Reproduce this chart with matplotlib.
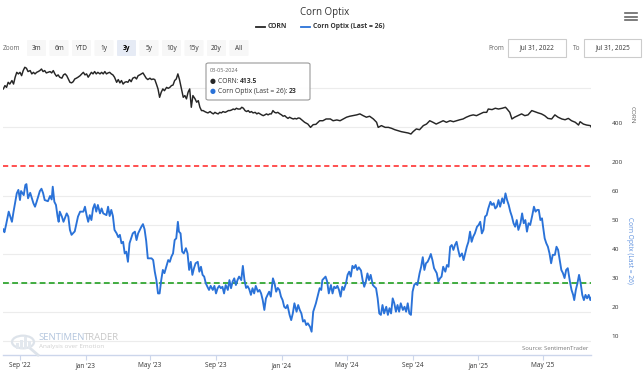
import matplotlib
matplotlib.use('Agg')
import matplotlib.pyplot as plt
from matplotlib.patches import FancyBboxPatch, Circle, Rectangle
from matplotlib.lines import Line2D
import pandas as pd

plt.rcParams['font.family'] = ['Open Sans', 'DejaVu Sans']

# ---------------- data ----------------
corn_dates = [
 '2022-08-01','2022-08-04','2022-08-07','2022-08-10','2022-08-13','2022-08-17','2022-08-20','2022-08-23','2022-08-26','2022-08-29',
 '2022-09-01','2022-09-04','2022-09-07','2022-09-10','2022-09-13','2022-09-16','2022-09-20','2022-09-23','2022-09-26','2022-09-29',
 '2022-10-02','2022-10-05','2022-10-08','2022-10-11','2022-10-14','2022-10-17','2022-10-20','2022-10-23','2022-10-27','2022-10-30',
 '2022-11-02','2022-11-05','2022-11-08','2022-11-11','2022-11-14','2022-11-18','2022-11-21','2022-11-24','2022-11-27','2022-11-30',
 '2022-12-03','2022-12-06','2022-12-09','2022-12-12','2022-12-15','2022-12-18','2022-12-22','2022-12-25','2022-12-28','2022-12-31',
 '2023-01-03','2023-01-06','2023-01-09','2023-01-12','2023-01-15','2023-01-18','2023-01-21','2023-01-24','2023-01-28','2023-01-31',
 '2023-02-03','2023-02-06','2023-02-09','2023-02-12','2023-02-15','2023-02-18','2023-02-21','2023-02-24','2023-02-28',
 '2023-03-03','2023-03-06','2023-03-09','2023-03-12','2023-03-15','2023-03-18','2023-03-21','2023-03-24','2023-03-27','2023-03-30',
 '2023-04-03','2023-04-06','2023-04-09','2023-04-12','2023-04-15','2023-04-18','2023-04-21','2023-04-24','2023-04-27',
 '2023-05-01','2023-05-04','2023-05-07','2023-05-10','2023-05-13','2023-05-16','2023-05-19','2023-05-22','2023-05-25','2023-05-28',
 '2023-06-01','2023-06-04','2023-06-07','2023-06-10','2023-06-13','2023-06-16','2023-06-19','2023-06-22','2023-06-25','2023-06-28',
 '2023-07-02','2023-07-05','2023-07-08','2023-07-11','2023-07-14','2023-07-17','2023-07-20','2023-07-24','2023-07-27','2023-07-30',
 '2023-08-02','2023-08-05','2023-08-08','2023-08-11','2023-08-14','2023-08-17','2023-08-21','2023-08-24','2023-08-27','2023-08-30',
 '2023-09-02','2023-09-05','2023-09-08','2023-09-11','2023-09-14','2023-09-18','2023-09-21','2023-09-24','2023-09-27','2023-09-30',
 '2023-10-03','2023-10-06','2023-10-09','2023-10-12','2023-10-16','2023-10-19','2023-10-22','2023-10-25','2023-10-28','2023-10-31',
 '2023-11-03','2023-11-06','2023-11-09','2023-11-13','2023-11-16','2023-11-19','2023-11-22','2023-11-25','2023-11-28',
 '2023-12-01','2023-12-04','2023-12-07','2023-12-10','2023-12-13','2023-12-16','2023-12-19','2023-12-22','2023-12-25','2023-12-29',
 '2024-01-01','2024-01-04','2024-01-07','2024-01-10','2024-01-13','2024-01-16','2024-01-20','2024-01-23','2024-01-26','2024-01-29',
 '2024-02-01','2024-02-04','2024-02-13','2024-02-19','2024-02-24','2024-02-29','2024-03-05','2024-03-12','2024-03-18','2024-03-24',
 '2024-04-01','2024-04-06','2024-04-13','2024-04-19','2024-04-25','2024-05-01','2024-05-07','2024-05-13','2024-05-20','2024-05-26',
 '2024-06-01','2024-06-07','2024-06-13','2024-06-20','2024-06-26','2024-06-29','2024-07-05','2024-07-12','2024-07-18','2024-07-24',
 '2024-07-30','2024-08-05','2024-08-11','2024-08-17','2024-08-24','2024-08-29','2024-09-02','2024-09-08','2024-09-14','2024-09-21',
 '2024-09-27','2024-10-03','2024-10-09','2024-10-15','2024-10-22','2024-10-28','2024-11-03','2024-11-10','2024-11-16','2024-11-22',
 '2024-11-28','2024-12-04','2024-12-10','2024-12-17','2024-12-23','2024-12-29','2025-01-05','2025-01-11','2025-01-17','2025-01-20',
 '2025-01-27','2025-02-02','2025-02-08','2025-02-15','2025-02-21','2025-02-24','2025-03-01','2025-03-05','2025-03-10','2025-03-16',
 '2025-03-23','2025-03-29','2025-04-04','2025-04-11','2025-04-16','2025-04-23','2025-04-29','2025-05-05','2025-05-11','2025-05-18',
 '2025-05-24','2025-05-30','2025-06-06','2025-06-12','2025-06-18','2025-06-24','2025-07-01','2025-07-07','2025-07-10','2025-07-16',
 '2025-07-22','2025-07-29','2025-07-31']
corn_values = [
 595,612,603,629,620,638,620,655,680,672,
 680,663,689,706,701,684,689,672,680,672,
 680,684,689,697,684,689,677,680,684,677,
 689,672,660,667,655,650,667,672,663,646,
 629,626,632,646,650,655,663,672,680,667,
 672,655,667,680,672,684,672,680,672,680,
 672,684,672,677,680,672,667,655,629,
 643,626,638,620,629,632,629,643,632,650,
 655,646,663,667,672,677,663,650,643,
 650,643,646,643,620,595,552,578,595,586,
 603,598,603,612,615,638,646,672,643,603,
 552,561,544,578,595,501,561,544,527,535,
 501,484,484,479,475,472,479,472,467,475,
 470,467,475,472,479,475,479,484,484,487,
 492,489,496,492,492,501,496,484,479,484,
 475,479,472,475,467,472,467,462,458,
 462,467,462,467,467,484,475,472,475,467,
 462,455,458,450,444,450,444,441,444,441,
 446,445,424,415,398,412,413.5,432,432,441,
 441,432,436,432,441,450,455,458,462,467,
 458,450,455,441,424,398,407,398,398,393,
 386,381,376,373,369,364,376,390,386,407,
 415,432,424,415,424,432,424,432,427,432,
 437,441,450,458,462,458,467,475,475,492,
 489,496,492,496,501,492,475,441,450,458,
 467,458,462,484,479,472,467,458,444,441,
 462,450,441,437,444,432,424,410,427,415,
 410,407,398]

optix_dates = [
 '2022-08-01','2022-08-03','2022-08-06','2022-08-11','2022-08-13','2022-08-17','2022-08-20','2022-08-26','2022-08-29',
 '2022-09-01','2022-09-03','2022-09-08','2022-09-11','2022-09-13','2022-09-16','2022-09-20','2022-09-26','2022-09-29',
 '2022-10-02','2022-10-08','2022-10-11','2022-10-14','2022-10-17','2022-10-23','2022-10-27','2022-10-30',
 '2022-11-01','2022-11-04','2022-11-07','2022-11-10','2022-11-12','2022-11-14','2022-11-18','2022-11-21','2022-11-27','2022-11-30',
 '2022-12-03','2022-12-06','2022-12-12','2022-12-15','2022-12-18','2022-12-22','2022-12-28','2022-12-31',
 '2023-01-03','2023-01-06','2023-01-09','2023-01-12','2023-01-15','2023-01-18','2023-01-21','2023-01-24','2023-01-28','2023-01-31',
 '2023-02-03','2023-02-09','2023-02-12','2023-02-15','2023-02-18','2023-02-21','2023-02-24','2023-02-28',
 '2023-03-03','2023-03-06','2023-03-09','2023-03-12','2023-03-15','2023-03-18','2023-03-21','2023-03-24','2023-03-30',
 '2023-04-03','2023-04-06','2023-04-09','2023-04-15','2023-04-18','2023-04-21','2023-04-24','2023-04-27',
 '2023-05-04','2023-05-07','2023-05-10','2023-05-13','2023-05-16','2023-05-19','2023-05-22','2023-05-25','2023-05-28',
 '2023-06-04','2023-06-07','2023-06-10','2023-06-13','2023-06-16','2023-06-19','2023-06-22','2023-06-24','2023-06-27','2023-06-30',
 '2023-07-03','2023-07-07','2023-07-10','2023-07-13','2023-07-16','2023-07-19','2023-07-22','2023-07-25','2023-07-29',
 '2023-08-01','2023-08-04','2023-08-07','2023-08-10','2023-08-13','2023-08-16','2023-08-19','2023-08-22','2023-08-26','2023-08-29',
 '2023-09-01','2023-09-04','2023-09-07','2023-09-10','2023-09-13','2023-09-16','2023-09-19','2023-09-23','2023-09-26','2023-09-29',
 '2023-10-02','2023-10-05','2023-10-08','2023-10-11','2023-10-14','2023-10-18','2023-10-21','2023-10-24','2023-10-27','2023-10-30',
 '2023-11-02','2023-11-05','2023-11-08','2023-11-11','2023-11-14','2023-11-18','2023-11-21','2023-11-24','2023-11-27','2023-11-30',
 '2023-12-03','2023-12-06','2023-12-09','2023-12-12','2023-12-16','2023-12-19','2023-12-22','2023-12-25','2023-12-28','2023-12-31',
 '2024-01-03','2024-01-06','2024-01-09','2024-01-12','2024-01-16','2024-01-19','2024-01-22','2024-01-25','2024-01-29',
 '2024-02-01','2024-02-04','2024-02-07','2024-02-10','2024-02-13','2024-02-16','2024-02-19','2024-02-23','2024-02-26','2024-02-29',
 '2024-03-03','2024-03-05','2024-03-09','2024-03-12','2024-03-15','2024-03-17','2024-03-20','2024-03-23','2024-03-26','2024-03-29',
 '2024-04-02','2024-04-05','2024-04-08','2024-04-11','2024-04-14','2024-04-17','2024-04-20','2024-04-23','2024-04-26','2024-04-30',
 '2024-05-03','2024-05-06','2024-05-09','2024-05-12','2024-05-15','2024-05-18','2024-05-21','2024-05-24','2024-05-28','2024-05-31',
 '2024-06-03','2024-06-06','2024-06-09','2024-06-12','2024-06-15','2024-06-19','2024-06-22','2024-06-25','2024-06-28',
 '2024-07-01','2024-07-04','2024-07-07','2024-07-10','2024-07-14','2024-07-17','2024-07-20','2024-07-23','2024-07-26','2024-07-29',
 '2024-08-01','2024-08-04','2024-08-07','2024-08-10','2024-08-14','2024-08-17','2024-08-20','2024-08-23','2024-08-26','2024-08-29',
 '2024-09-01','2024-09-04','2024-09-07','2024-09-10','2024-09-14','2024-09-17','2024-09-20','2024-09-23','2024-09-26','2024-09-29',
 '2024-10-02','2024-10-05','2024-10-08','2024-10-11','2024-10-16','2024-10-19','2024-10-22','2024-10-25','2024-10-28',
 '2024-11-01','2024-11-04','2024-11-07','2024-11-10','2024-11-13','2024-11-16','2024-11-19','2024-11-22','2024-11-25','2024-11-28',
 '2024-12-02','2024-12-05','2024-12-08','2024-12-11','2024-12-14','2024-12-17','2024-12-20','2024-12-23','2024-12-26','2024-12-30',
 '2025-01-02','2025-01-05','2025-01-08','2025-01-11','2025-01-14','2025-01-17','2025-01-20','2025-01-24','2025-01-27','2025-01-30',
 '2025-02-02','2025-02-05','2025-02-08','2025-02-11','2025-02-15','2025-02-18','2025-02-21','2025-02-24','2025-02-27',
 '2025-03-02','2025-03-05','2025-03-08','2025-03-11','2025-03-14','2025-03-17','2025-03-21','2025-03-24','2025-03-27','2025-03-30',
 '2025-04-02','2025-04-05','2025-04-08','2025-04-12','2025-04-15','2025-04-18','2025-04-21','2025-04-24','2025-04-27','2025-04-30',
 '2025-05-02','2025-05-05','2025-05-08','2025-05-11','2025-05-14','2025-05-17','2025-05-20','2025-05-24','2025-05-27','2025-05-30',
 '2025-06-02','2025-06-05','2025-06-08','2025-06-11','2025-06-14','2025-06-17','2025-06-21','2025-06-24','2025-06-27','2025-06-29',
 '2025-07-02','2025-07-05','2025-07-08','2025-07-11','2025-07-14','2025-07-17','2025-07-20','2025-07-23','2025-07-26','2025-07-29',
 '2025-07-31']
optix_values = [
 48.5,47.5,50.0,54.6,53.4,51.1,54.6,60.9,62.1,
 58.6,61.7,60.3,63.8,64.1,59.2,61.1,57.5,56.3,
 58.0,61.7,62.5,61.0,58.6,58.2,60.0,58.8,
 63.2,58.0,56.9,52.9,51.1,54.6,52.9,51.1,54.0,52.9,
 48.3,46.6,47.8,50.3,52.9,54.6,54.6,56.3,
 53.4,51.1,53.4,51.7,55.7,57.2,54.6,56.9,54.0,55.7,
 54.0,53.4,56.3,53.1,55.2,53.1,48.3,47.1,
 45.8,46.6,43.7,44.2,40.2,40.8,37.3,43.7,47.1,
 47.7,44.8,47.1,49.4,50.3,48.5,44.5,38.5,
 38.5,37.9,33.9,31.0,26.4,26.4,31.0,34.5,33.4,
 37.9,37.3,39.1,40.2,44.8,45.4,51.1,47.7,47.1,40.8,
 40.2,42.0,40.2,34.5,37.3,32.8,35.1,36.8,37.3,
 33.9,35.6,32.8,32.2,29.9,28.7,27.6,29.0,27.6,29.0,
 26.4,28.2,29.0,28.2,28.7,26.4,29.3,27.6,31.0,28.2,
 30.5,31.6,29.3,31.0,32.2,31.0,35.9,31.0,28.3,28.9,
 27.8,25.9,28.2,26.4,29.0,27.0,27.6,26.4,24.1,20.7,
 24.7,25.9,27.0,25.3,31.6,29.9,27.0,28.3,27.6,25.3,
 24.1,21.8,21.3,22.4,19.0,17.2,19.5,23.0,20.1,
 22.4,20.7,19.5,16.7,17.2,15.5,16.1,14.9,13.2,20.1,
 21.8,23.0,25.9,28.2,27.6,31.0,31.6,32.2,30.5,26.4,
 29.3,26.4,28.7,28.2,29.0,27.6,25.3,28.7,27.6,29.9,
 32.8,33.9,32.2,35.9,35.1,36.2,34.5,35.4,34.3,31.0,
 28.7,30.5,33.3,31.0,32.8,29.3,28.7,28.2,24.7,
 19.5,19.0,22.4,19.5,21.8,19.0,21.3,19.5,24.7,23.0,
 20.1,22.4,20.1,23.0,20.7,21.8,20.1,23.0,19.5,19.0,
 27.0,29.3,29.9,29.3,33.3,35.6,38.9,34.5,36.8,37.3,
 38.5,40.0,37.9,35.1,33.4,30.5,31.6,32.2,35.6,
 33.9,36.2,35.6,42.5,43.1,41.4,43.1,44.2,41.4,39.1,
 40.2,37.9,40.2,42.5,44.2,47.7,44.2,46.0,47.1,49.4,
 50.0,51.1,47.1,48.3,52.9,53.4,55.7,58.0,56.9,57.5,
 55.7,56.3,58.6,56.3,59.2,57.5,60.9,58.6,56.9,
 54.6,52.9,50.6,49.4,51.7,48.3,50.6,54.0,50.6,51.7,
 47.7,50.6,50.0,53.4,56.3,54.6,55.2,55.2,51.7,52.3,
 49.4,45.4,43.7,42.5,40.2,36.8,39.7,39.7,42.5,41.4,
 37.9,34.5,33.4,31.7,34.5,35.1,30.5,27.6,25.9,24.1,
 27.6,29.9,32.8,29.9,25.9,24.1,25.9,24.7,25.9,24.1,
 25.0]

corn_ticks = [200, 400, 600]
corn_tick_labels = ['200', '400', '']
optix_ticks = [10, 20, 30, 40, 50, 60]
optix_threshold = 30
corn_divider = 200
xtick_dates = ['2022-09-01', '2023-01-01', '2023-05-01', '2023-09-01', '2024-01-01',
               '2024-05-01', '2024-09-01', '2025-01-01', '2025-05-01']
xtick_labels = ["Sep '22", "Jan '23", "May '23", "Sep '23", "Jan '24",
                "May '24", "Sep '24", "Jan '25", "May '25"]
range_buttons = ['3m', '6m', 'YTD', '1y', '3y', '5y', '10y', '15y', '20y', 'All']
selected_button = '3y'

# ---------------- figure ----------------
W, H = 644, 371
fig = plt.figure(figsize=(W / 100, H / 100), dpi=100)
fig.patch.set_facecolor('white')


def fx(x):
    return x / W


def fy(y):
    return 1 - y / H


X0, X1 = 2.8, 591.4
ax1 = fig.add_axes([fx(X0), fy(166), (X1 - X0) / W, 104 / H])
ax2 = fig.add_axes([fx(X0), fy(355), (X1 - X0) / W, 189 / H])

start, end = pd.Timestamp('2022-07-31'), pd.Timestamp('2025-07-31')
for ax in (ax1, ax2):
    ax.set_xlim(start, end)
    for s in ax.spines.values():
        s.set_visible(False)
    ax.set_facecolor('none')
    ax.tick_params(left=False, right=False, labelleft=False, labelright=False)
    ax.set_yticks([])

ax1.set_ylim(200, 733)
ax2.set_ylim(5.17, 70.34)

GRID = '#ececec'
for v in corn_ticks:
    if v != corn_divider:
        ax1.axhline(v, color=GRID, lw=0.8, zorder=0)
for v in optix_ticks:
    ax2.axhline(v, color=GRID, lw=0.8, zorder=0)

ax1.axhline(corn_divider, color='#ff3b3b', lw=1.25, ls=(0, (3, 2)), zorder=2, clip_on=False)
ax2.axhline(optix_threshold, color='#22a022', lw=1.2, ls=(0, (3.5, 2)), zorder=2)

ax1.plot(pd.to_datetime(corn_dates), corn_values, color='#262626', lw=1.05, zorder=3)
ax2.plot(pd.to_datetime(optix_dates), optix_values, color='#2a72d8', lw=1.35, zorder=3)

# x axis
ax1.set_xticks([])
ax2.spines['bottom'].set_visible(True)
ax2.spines['bottom'].set_color('#ccd6eb')
ax2.spines['bottom'].set_linewidth(1.0)
ax2.set_xticks(pd.to_datetime(xtick_dates))
ax2.set_xticklabels(xtick_labels, fontsize=4.7, color='#333333')
ax2.tick_params(axis='x', length=3.5, width=0.8, color='#ccd6eb', pad=1.8)

# right-hand y labels
for v, lab in zip(corn_ticks, corn_tick_labels):
    if lab:
        ax1.annotate(lab, xy=(1, v), xycoords=('axes fraction', 'data'), xytext=(20, 3),
                     textcoords='offset pixels', ha='left', va='center', fontsize=4.6,
                     color='#333333', annotation_clip=False)
for v in optix_ticks:
    ax2.annotate(str(v), xy=(1, v), xycoords=('axes fraction', 'data'), xytext=(20, 4),
                 textcoords='offset pixels', ha='left', va='center', fontsize=4.6,
                 color='#333333', annotation_clip=False)

fig.text(fx(632), fy(115), 'CORN', rotation=270, ha='center', va='center',
         fontsize=4.6, color='#666666')
fig.text(fx(629), fy(250), 'Corn Optix (Last = 26)', rotation=270, ha='center', va='center',
         fontsize=4.8, color='#5b8fde')

# ---------------- header ----------------
fig.text(fx(325), fy(12), 'Corn Optix', ha='center', va='center', fontsize=7, color='#333333')

fig.add_artist(Line2D([fx(256), fx(265)], [fy(27), fy(27)], color='#262626', lw=1.3))
fig.text(fx(268), fy(27), 'CORN', ha='left', va='center', fontsize=4.9, fontweight='bold', color='#333333')
fig.add_artist(Line2D([fx(301), fx(310)], [fy(27), fy(27)], color='#2a72d8', lw=1.3))
fig.text(fx(313), fy(27), 'Corn Optix (Last = 26)', ha='left', va='center', fontsize=4.9,
         fontweight='bold', color='#333333')

# hamburger
for yy in (13, 16.5, 20):
    fig.add_artist(Line2D([fx(625), fx(637)], [fy(yy), fy(yy)], color='#666666', lw=1.2))

# range selector
fig.text(fx(3), fy(48), 'Zoom', ha='left', va='center', fontsize=4.7, color='#666666')
bx = 27
for b in range_buttons:
    w = 19
    sel = (b == selected_button)
    fig.add_artist(FancyBboxPatch((fx(bx), fy(56)), w / W, 16 / H,
                                  boxstyle='round,pad=0,rounding_size=0.002',
                                  transform=fig.transFigure, facecolor='#e6ebf5' if sel else '#f7f7f7',
                                  edgecolor='none'))
    fig.text(fx(bx + w / 2), fy(48), b, ha='center', va='center', fontsize=4.7,
             color='#000000' if sel else '#333333', fontweight='bold' if sel else 'normal')
    bx += 22.5

fig.text(fx(504), fy(48), 'From', ha='right', va='center', fontsize=4.7, color='#666666')
fig.add_artist(Rectangle((fx(508), fy(57)), 58 / W, 18 / H, transform=fig.transFigure,
                         facecolor='white', edgecolor='#cccccc', lw=0.8))
fig.text(fx(537), fy(48), 'Jul 31, 2022', ha='center', va='center', fontsize=4.7, color='#333333')
fig.text(fx(580), fy(48), 'To', ha='right', va='center', fontsize=4.7, color='#666666')
fig.add_artist(Rectangle((fx(584), fy(57)), 57 / W, 18 / H, transform=fig.transFigure,
                         facecolor='white', edgecolor='#cccccc', lw=0.8))
fig.text(fx(612.5), fy(48), 'Jul 31, 2025', ha='center', va='center', fontsize=4.7, color='#333333')

# ---------------- tooltip ----------------
fig.add_artist(FancyBboxPatch((fx(206), fy(100)), 104 / W, 37 / H,
                              boxstyle='round,pad=0,rounding_size=0.004', transform=fig.transFigure,
                              facecolor=(1, 1, 1, 0.92), edgecolor='#999999', lw=0.8, zorder=10))
renderer = fig.canvas.get_renderer()


def rich(x, y, parts, size):
    cx = x
    for t, c, wgt in parts:
        tt = fig.text(fx(cx), fy(y), t, fontsize=size, color=c, fontweight=wgt,
                      ha='left', va='center', zorder=11)
        cx += tt.get_window_extent(renderer=renderer).width


fig.text(fx(210), fy(71), '03-05-2024', ha='left', va='center', fontsize=4.0, color='#666666', zorder=11)
rich(210, 81.5, [('\u25cf ', '#262626', 'normal'), ('CORN: ', '#333333', 'normal'),
                 ('413.5', '#333333', 'bold')], 4.9)
rich(210, 91.5, [('\u25cf ', '#2a72d8', 'normal'), ('Corn Optix (Last = 26): ', '#333333', 'normal'),
                 ('23', '#333333', 'bold')], 4.9)

# ---------------- watermark & credit ----------------
fig.add_artist(Circle((fx(23), fy(342)), 11 / W, transform=fig.transFigure, facecolor='none',
                      edgecolor='#dde3ea', lw=1.6))
for i, hh in enumerate([6, 9, 12, 8]):
    fig.add_artist(Rectangle((fx(16 + i * 4), fy(349)), 2.5 / W, hh / H, transform=fig.transFigure,
                             facecolor='#e3e8ee', edgecolor='none'))
fig.add_artist(Line2D([fx(31), fx(38)], [fy(349), fy(355)], color='#dde3ea', lw=2))
rich(38, 337, [('SENTIMEN', '#b4c6de', 'normal'), ('TRADER', '#c8c8c8', 'normal')], 6.8)
fig.text(fx(39), fy(346.5), 'Analysis over Emotion', ha='left', va='center', fontsize=4.6, color='#d0d0d0')

fig.text(fx(588), fy(349), 'Source: SentimenTrader', ha='right', va='center', fontsize=4.2, color='#777777')

fig.savefig('out.png', dpi=100, facecolor='white')
